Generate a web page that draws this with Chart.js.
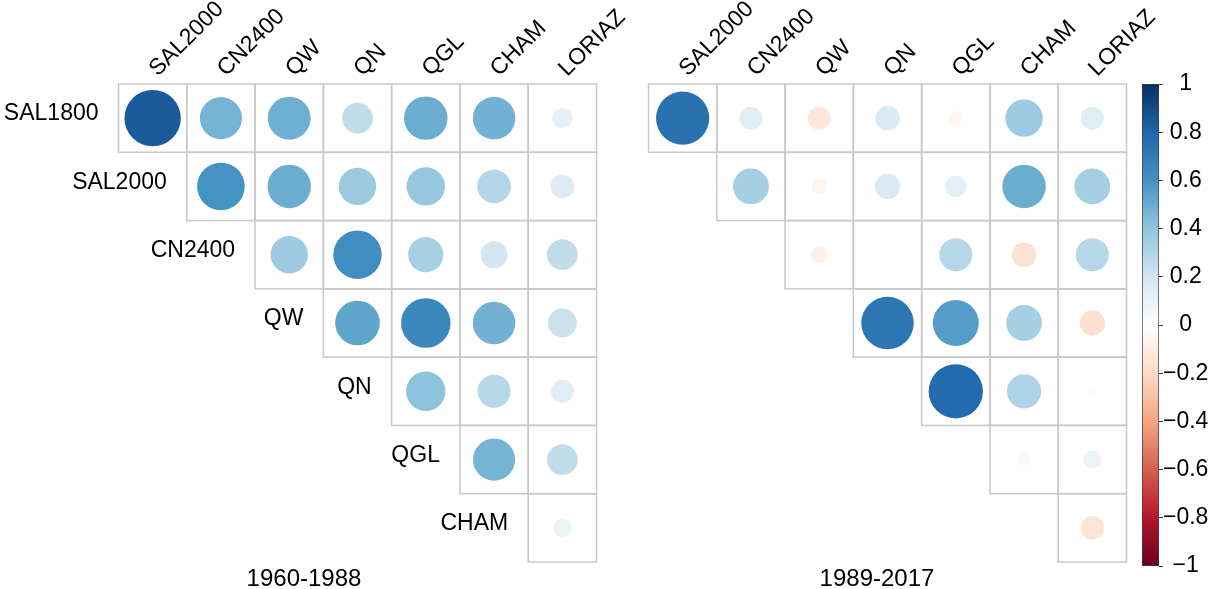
<!DOCTYPE html>
<html>
<head>
<meta charset="utf-8">
<title>Correlation matrices</title>
<script src="https://cdn.jsdelivr.net/npm/chart.js@4.4.0/dist/chart.umd.min.js"></script>
<style>
  html, body { margin: 0; padding: 0; background: #fff; }
  #wrap { position: relative; width: 1212px; height: 589px; overflow: hidden; }
  .box { position: absolute; top: 0; height: 589px; }
</style>
</head>
<body>
<div id="wrap">
  <div class="box" style="left:0;width:640px"><canvas id="earlyChart"></canvas></div>
  <div class="box" style="left:606px;width:606px"><canvas id="lateChart"></canvas></div>
  <div class="box" style="left:1130px;width:82px"><canvas id="scaleChart"></canvas></div>
</div>
<script>
const rowLabels = ['SAL1800', 'SAL2000', 'CN2400', 'QW', 'QN', 'QGL', 'CHAM'];
const colLabels = ['SAL2000', 'CN2400', 'QW', 'QN', 'QGL', 'CHAM', 'LORIAZ'];

// upper triangle only: row i holds the columns i..6
const corrEarly = [
  [0.84, 0.47, 0.49, 0.25, 0.50, 0.48, 0.11],
  [0.60, 0.50, 0.37, 0.39, 0.30, 0.15],
  [0.37, 0.62, 0.33, 0.19, 0.25],
  [0.53, 0.65, 0.48, 0.22],
  [0.41, 0.29, 0.14],
  [0.47, 0.25],
  [0.09]
];
const corrLate = [
  [0.75, 0.14, -0.14, 0.16, -0.05, 0.37, 0.14],
  [0.34, -0.06, 0.17, 0.12, 0.50, 0.34],
  [-0.08, 0.01, 0.29, -0.16, 0.29],
  [0.73, 0.56, 0.34, -0.17],
  [0.78, 0.31, -0.02],
  [0.04, 0.09],
  [-0.15]
];
const periodTitles = ['1960-1988', '1989-2017'];
const legendTicks = [1, 0.8, 0.6, 0.4, 0.2, 0, -0.2, -0.4, -0.6, -0.8, -1];

// RdBu ramp from -1 to 1
const palette = ['#67001F', '#B2182B', '#D6604D', '#F4A582', '#FDDBC7', '#FFFFFF',
                 '#D1E5F0', '#92C5DE', '#4393C3', '#2166AC', '#053061'];

const FONT = '"Liberation Sans", Arial, sans-serif';
Chart.defaults.font.family = FONT;

function hexToRgb(h) {
  const n = parseInt(h.slice(1), 16);
  return [(n >> 16) & 255, (n >> 8) & 255, n & 255];
}

function corrColor(v) {
  const t = (v + 1) / 2 * (palette.length - 1);
  const i = Math.min(Math.floor(t), palette.length - 2);
  const f = t - i;
  const a = hexToRgb(palette[i]), b = hexToRgb(palette[i + 1]);
  const c = a.map((ch, k) => Math.round(ch + (b[k] - ch) * f));
  return `rgb(${c[0]}, ${c[1]}, ${c[2]})`;
}

function toPoints(matrix) {
  const pts = [];
  matrix.forEach((row, i) => {
    row.forEach((v, k) => pts.push({ x: i + k, y: i, v: v }));
  });
  return pts;
}

// circle area follows |r|; a full cell circle is 90% of the cell
function circleRadius(ctx) {
  const s = ctx.chart.scales.x;
  const cell = Math.abs(s.getPixelForValue(1) - s.getPixelForValue(0));
  return 0.45 * Math.sqrt(Math.abs(ctx.raw.v)) * cell;
}

// cell borders, row/column names and the period caption
const matrixFrame = {
  id: 'matrixFrame',
  beforeDatasetsDraw(chart, args, opts) {
    const { ctx, chartArea } = chart;
    const x = chart.scales.x, y = chart.scales.y;
    ctx.save();
    ctx.strokeStyle = '#c8c8c8';
    ctx.lineWidth = 1.5;
    for (let i = 0; i < rowLabels.length; i++) {
      for (let j = i; j < colLabels.length; j++) {
        const l = x.getPixelForValue(j - 0.5), r = x.getPixelForValue(j + 0.5);
        const t = y.getPixelForValue(i - 0.5), b = y.getPixelForValue(i + 0.5);
        ctx.strokeRect(l, t, r - l, b - t);
      }
    }

    ctx.fillStyle = '#000';
    ctx.font = '23px ' + FONT;

    if (opts.showRows) {
      ctx.textAlign = 'right';
      ctx.textBaseline = 'middle';
      rowLabels.forEach((name, i) => {
        ctx.fillText(name, x.getPixelForValue(i - 0.5) - 20, y.getPixelForValue(i) - 4);
      });
    }

    ctx.textAlign = 'left';
    ctx.textBaseline = 'alphabetic';
    colLabels.forEach((name, j) => {
      ctx.save();
      ctx.translate(x.getPixelForValue(j) + 5, chartArea.top - 7);
      ctx.rotate(-Math.PI / 4);
      ctx.fillText(name, 0, 0);
      ctx.restore();
    });

    ctx.font = '24px ' + FONT;
    ctx.textAlign = 'center';
    ctx.fillText(opts.title, opts.titleX, chart.height - 3);
    ctx.restore();
  }
};

function makeMatrixChart(id, matrix, title, titleX, showRows, padding) {
  return new Chart(document.getElementById(id), {
    type: 'scatter',
    data: {
      datasets: [{
        data: toPoints(matrix),
        pointRadius: circleRadius,
        pointHoverRadius: circleRadius,
        pointBackgroundColor: ctx => corrColor(ctx.raw.v),
        pointBorderWidth: 0,
        pointBorderColor: 'rgba(0,0,0,0)'
      }]
    },
    options: {
      animation: false,
      responsive: true,
      maintainAspectRatio: false,
      layout: { padding: padding },
      plugins: {
        legend: { display: false },
        tooltip: { enabled: false },
        matrixFrame: { title: title, titleX: titleX, showRows: showRows }
      },
      scales: {
        x: { type: 'linear', min: -0.5, max: colLabels.length - 0.5, display: false },
        y: { type: 'linear', min: -0.5, max: rowLabels.length - 0.5, reverse: true, display: false }
      }
    },
    plugins: [matrixFrame]
  });
}

makeMatrixChart('earlyChart', corrEarly, periodTitles[0], 304, true,
  { left: 118.5, right: 43.5, top: 84, bottom: 27 });
makeMatrixChart('lateChart', corrLate, periodTitles[1], 271, false,
  { left: 42.5, right: 85.5, top: 84, bottom: 27 });

// colour key: one floating bar from -1 to 1 filled with the ramp
function rampFill(chart) {
  const area = chart.chartArea;
  if (!area) return palette[5];
  const g = chart.ctx.createLinearGradient(0, area.bottom, 0, area.top);
  palette.forEach((c, k) => g.addColorStop(k / (palette.length - 1), c));
  return g;
}

new Chart(document.getElementById('scaleChart'), {
  type: 'bar',
  data: {
    labels: [''],
    datasets: [{
      data: [[-1, 1]],
      backgroundColor: ctx => rampFill(ctx.chart),
      borderColor: '#3a3a3a',
      borderWidth: 1,
      borderSkipped: false,
      barPercentage: 1,
      categoryPercentage: 1
    }]
  },
  options: {
    animation: false,
    responsive: true,
    maintainAspectRatio: false,
    layout: { padding: { left: 12, right: 0, top: 84, bottom: 23 } },
    plugins: { legend: { display: false }, tooltip: { enabled: false } },
    scales: {
      x: { display: false },
      y: {
        position: 'right',
        min: -1,
        max: 1,
        afterBuildTicks: s => { s.ticks = legendTicks.map(v => ({ value: v })); },
        afterFit: s => { s.width = 53; },
        ticks: {
          color: '#000',
          font: { size: 23 },
          crossAlign: 'center',
          padding: 0,
          callback: v => v === 0 ? '0' : (v < 0 ? '\u2212' : '') + String(Math.abs(v))
        },
        grid: { drawOnChartArea: false, tickLength: 4, color: '#3a3a3a' },
        border: { display: false }
      }
    }
  }
});
</script>
</body>
</html>
